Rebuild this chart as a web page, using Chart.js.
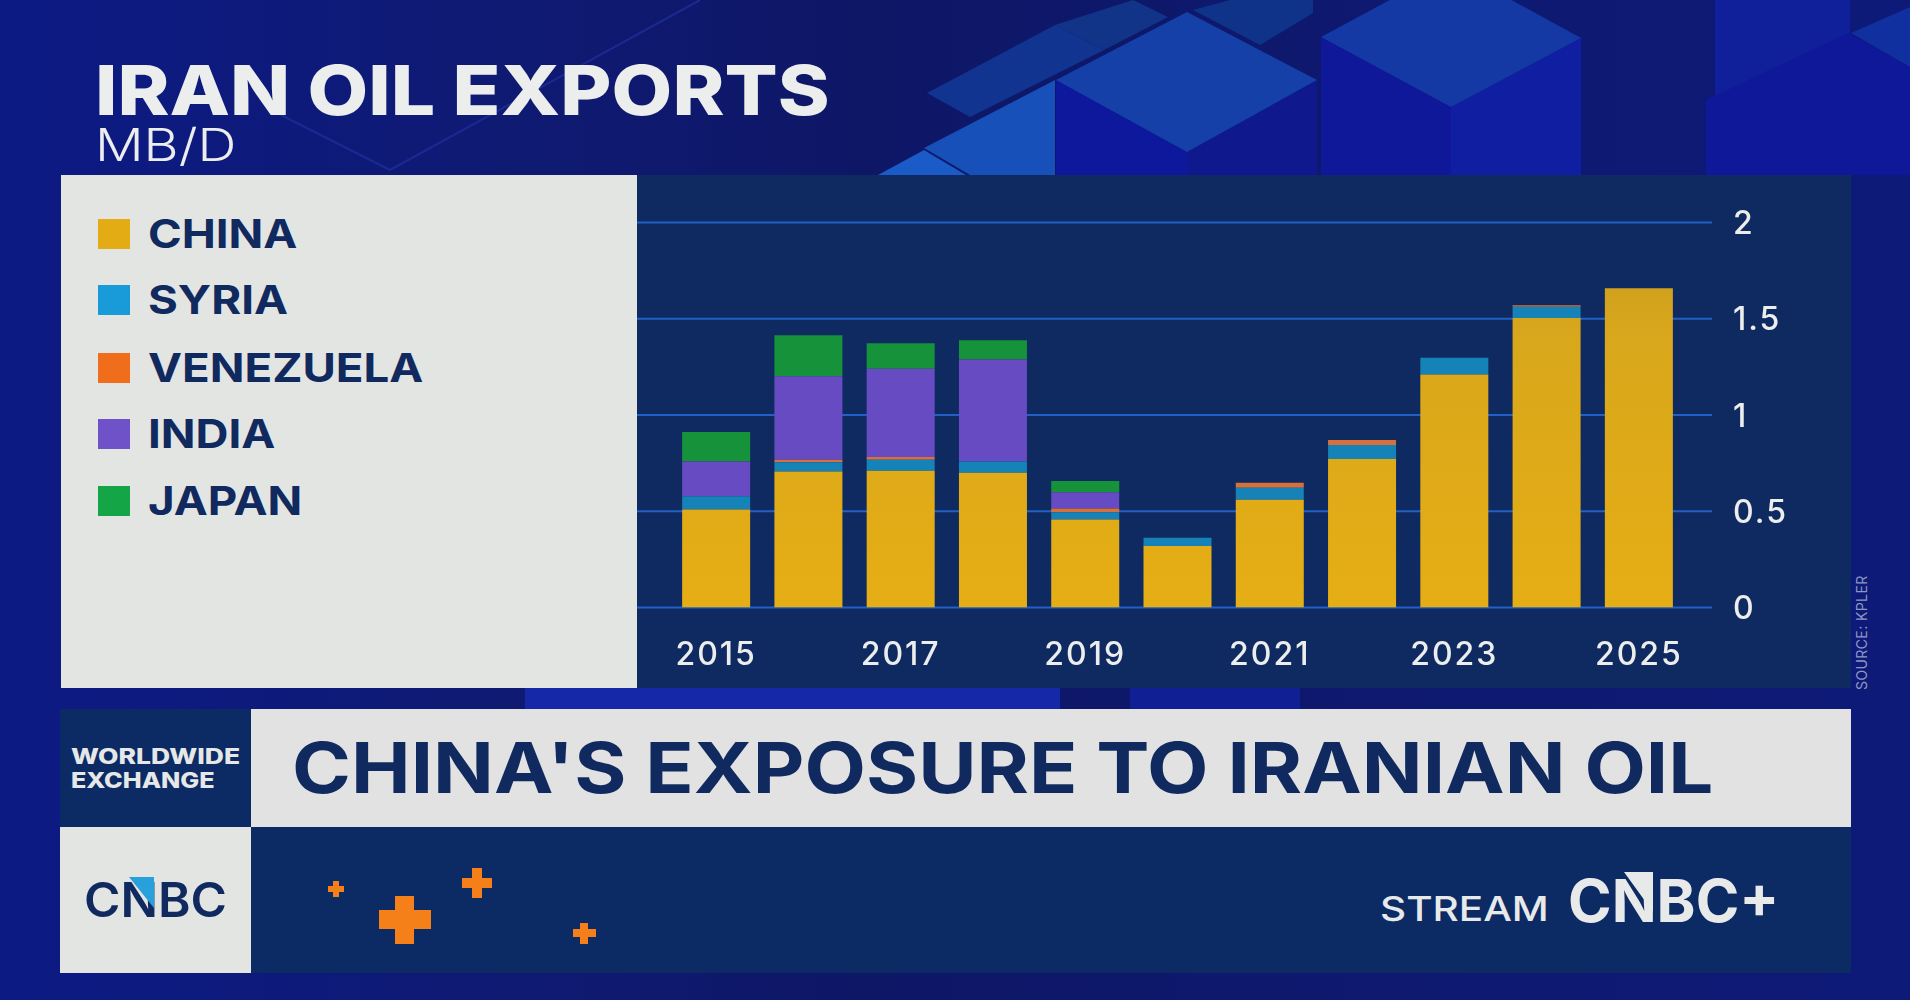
<!DOCTYPE html>
<html>
<head>
<meta charset="utf-8">
<title>Iran oil exports</title>
<script src="https://cdn.jsdelivr.net/npm/chart.js@4"></script>
<style>
    html, body { margin: 0; padding: 0; background: #0d1a7c; }
    #stage { position: relative; width: 1910px; height: 1000px; overflow: hidden; font-family: Inter, sans-serif; }
    #bg { position: absolute; left: 0; top: 0; }
    .box { position: absolute; }
    .txt { position: absolute; white-space: nowrap; line-height: 1; transform-origin: left center; }
    #chart { position: absolute; left: 637px; top: 175px; }
    .swatch { position: absolute; left: 98px; width: 32px; height: 30px; }
</style>
</head>
<body>
<div id="stage">
    <svg id="bg" width="1910" height="1000" viewBox="0 0 1910 1000">
        <defs>
            <linearGradient id="base" x1="0" y1="0" x2="1" y2="0">
                <stop offset="0" stop-color="#0c1a84"/>
                <stop offset="0.25" stop-color="#0f1a74"/>
                <stop offset="0.45" stop-color="#0e1766"/>
                <stop offset="1" stop-color="#0e1a78"/>
            </linearGradient>
        </defs>
        <rect width="1910" height="1000" fill="url(#base)"/>
        <!-- cubes behind the title -->
        <path d="M700 0L390 170M281 115L390 170" stroke="#1a2a92" stroke-width="2" fill="none"/>
        <polygon points="927,93 1055,25 1104,50 970,117" fill="#103490"/>
        <polygon points="1055,25 1133,0 1168,17 1104,50" fill="#123488"/>
        <polygon points="1193,10 1230,0 1313,0 1313,13 1260,45" fill="#10338a"/>
        <polygon points="924,148 1055,80 1055,175 970,175" fill="#1650b8"/>
        <polygon points="878,175 924,150 966,175" fill="#1a5bc8"/>
        <polygon points="1056,80 1187,152 1187,175 1056,175" fill="#0e189c"/>
        <polygon points="1187,152 1317,80 1317,175 1187,175" fill="#0f188c"/>
        <polygon points="1187,12 1317,80 1187,152 1056,80" fill="#1440a8"/>
        <polygon points="1321,37 1451,107 1451,175 1321,175" fill="#10189a"/>
        <polygon points="1451,107 1581,38 1581,175 1451,175" fill="#101fa2"/>
        <polygon points="1451,-33 1581,38 1451,107 1321,37" fill="#1438a4"/>
        <rect x="1715" y="0" width="135" height="175" fill="#10209a"/>
        <polygon points="1706,100 1848,33 1910,67 1910,175 1706,175" fill="#10189a"/>
        <polygon points="1851,33 1910,7 1910,67" fill="#1030a0"/>
        <!-- strip between the chart and the headline -->
        <rect x="525" y="688" width="535" height="21" fill="#1428a8"/>
        <rect x="1130" y="688" width="170" height="21" fill="#101f94"/>
    </svg>

    <div class="txt" style="left:95px;top:56px;font-size:69px;font-weight:800;color:#eceded;transform:scaleX(1.14);">IRAN OIL EXPORTS</div>
    <div class="txt" style="left:95px;top:122px;font-size:45px;font-weight:300;color:#eceded;transform:scaleX(1.2);">MB/D</div>

    <div class="box" style="left:61px;top:175px;width:576px;height:513px;background:#e3e5e3;"></div>
    <div class="box" style="left:637px;top:175px;width:1214px;height:513px;background:#0f2a60;"></div>
    <div id="legend"></div>
    <canvas id="chart" width="1214" height="513"></canvas>
    <div class="txt" style="left:1855px;top:578px;height:112px;font-size:14px;letter-spacing:0.4px;color:#8e97c4;writing-mode:vertical-rl;transform:rotate(180deg);transform-origin:center;">SOURCE: KPLER</div>

    <div class="box" style="left:60px;top:709px;width:191px;height:118px;background:#0c2a63;"></div>
    <div class="box" style="left:251px;top:709px;width:1600px;height:118px;background:#e2e2e2;"></div>
    <div class="box" style="left:60px;top:827px;width:191px;height:146px;background:#e3e5e3;"></div>
    <div class="box" style="left:251px;top:827px;width:1600px;height:146px;background:#0c2a63;"></div>

    <div class="txt" style="left:71px;top:746px;font-size:21px;font-weight:800;color:#e6e8e8;transform:scaleX(1.26);">WORLDWIDE</div>
    <div class="txt" style="left:71px;top:770px;font-size:21px;font-weight:800;color:#e6e8e8;transform:scaleX(1.2);">EXCHANGE</div>
    <div class="txt" style="left:292px;top:733px;font-size:70px;font-weight:700;color:#10295f;transform:scaleX(1.14);">CHINA'S EXPOSURE TO IRANIAN OIL</div>

    <div class="txt" style="left:84px;top:876px;font-size:48px;font-weight:600;color:#10295f;transform:scaleX(1.03);">CNBC</div>
    <div class="txt" style="left:1380px;top:892px;font-size:34px;font-weight:500;color:#e8eaea;transform:scaleX(1.19);">STREAM</div>
    <div class="txt" style="left:1568px;top:871px;font-size:59px;font-weight:700;color:#e8eaea;">CNBC+</div>
    <svg class="box" style="left:0;top:0;" width="1910" height="1000">
        <polygon points="129,877 154,877 154,908" fill="#27a0dc"/>
        <polygon points="1624,872 1653,872 1653,912" fill="#e8eaea"/>
        <!-- plus signs -->
        <g fill="#f5801a">
            <rect x="328" y="886" width="16" height="6"/><rect x="333" y="881" width="6" height="16"/>
            <rect x="462" y="878" width="30" height="10"/><rect x="472" y="868" width="10" height="30"/>
            <rect x="379" y="910" width="52" height="19"/><rect x="395" y="896" width="19" height="48"/>
            <rect x="573" y="929" width="23" height="8"/><rect x="580" y="923" width="8" height="21"/>
        </g>
    </svg>
</div>
<script>
// السنوات والقيم مقروءة من الصورة
const years = ['2015', '2016', '2017', '2018', '2019', '2020', '2021', '2022', '2023', '2024', '2025'];
const china = [0.509, 0.706, 0.711, 0.70, 0.457, 0.32, 0.56, 0.771, 1.211, 1.504, 1.659];
const syria = [0.069, 0.048, 0.057, 0.058, 0.038, 0.042, 0.062, 0.073, 0.087, 0.058, 0];
const venezuela = [0, 0.014, 0.014, 0, 0.019, 0, 0.026, 0.026, 0, 0.008, 0];
const india = [0.18, 0.433, 0.458, 0.53, 0.085, 0, 0, 0, 0, 0, 0];
const japan = [0.154, 0.213, 0.133, 0.10, 0.058, 0, 0, 0, 0, 0, 0];
const yTicks = [0, 0.5, 1, 1.5, 2];
const seriesNames = ['CHINA', 'SYRIA', 'VENEZUELA', 'INDIA', 'JAPAN'];
const legendColors = ['#e3ab14', '#189bd8', '#f06d1c', '#6f52c8', '#14a546'];
const barColors = ['#e3ab17', '#1582b8', '#d8703c', '#674bc2', '#16923a'];
const legendRows = [234, 300, 368, 434, 501];

// بناء وسيلة الإيضاح
const legend = document.getElementById('legend');
seriesNames.forEach(function(name, i) {
    const sw = document.createElement('div');
    sw.className = 'swatch';
    sw.style.top = (legendRows[i] - 15) + 'px';
    sw.style.background = legendColors[i];
    legend.appendChild(sw);
    const label = document.createElement('div');
    label.className = 'txt';
    label.textContent = name;
    label.style.cssText = 'left:148px;top:' + (legendRows[i] - 20) + 'px;font-size:40px;font-weight:700;color:#10295f;transform:scaleX(1.14);';
    legend.appendChild(label);
});

// خطوط الشبكة تمتد خارج منطقة الأعمدة
const longGrid = {
    id: 'longGrid',
    beforeDraw(chart) {
        chart.ctx.letterSpacing = '2px';
    },
    beforeDatasetsDraw(chart) {
        const ctx = chart.ctx;
        const y = chart.scales.y;
        ctx.save();
        ctx.strokeStyle = '#2360c4';
        ctx.lineWidth = 2;
        y.ticks.forEach(function(t) {
            const py = y.getPixelForValue(t.value);
            ctx.beginPath();
            ctx.moveTo(0, py);
            ctx.lineTo(1075, py);
            ctx.stroke();
        });
        ctx.restore();
    }
};

function chinaFill(context) {
    const area = context.chart.chartArea;
    if (!area) return barColors[0];
    const g = context.chart.ctx.createLinearGradient(0, area.top, 0, area.bottom);
    g.addColorStop(0, '#c89a20');
    g.addColorStop(0.3, '#d8a71b');
    g.addColorStop(1, '#e6ae15');
    return g;
}

const seriesData = [china, syria, venezuela, india, japan];

new Chart(document.getElementById('chart'), {
    type: 'bar',
    data: {
        labels: years,
        datasets: seriesNames.map(function(name, i) {
            return {
                label: name,
                data: seriesData[i],
                backgroundColor: i === 0 ? chinaFill : barColors[i],
                borderWidth: 0,
                barPercentage: 0.737,
                categoryPercentage: 1
            };
        })
    },
    options: {
        responsive: false,
        animation: false,
        devicePixelRatio: 1,
        layout: { padding: { left: 33, top: 47.5, right: 0, bottom: 0 } },
        plugins: { legend: { display: false }, tooltip: { enabled: false } },
        scales: {
            x: {
                stacked: true,
                grid: { display: false },
                border: { display: false },
                afterFit(scale) { scale.height = 80.5; },
                ticks: {
                    color: '#eceded',
                    font: { family: 'Inter', size: 32, weight: '500' },
                    maxRotation: 0,
                    autoSkip: false,
                    padding: 21,
                    callback: function(value, index) {
                        return index % 2 === 0 ? years[index] : '';
                    }
                }
            },
            y: {
                stacked: true,
                position: 'right',
                min: 0,
                max: 2,
                grid: { display: false },
                border: { display: false },
                afterFit(scale) {
                    scale.width = 166;
                    scale.paddingTop = 0;
                    scale.paddingBottom = 0;
                },
                afterBuildTicks(scale) {
                    scale.ticks = yTicks.map(function(v) { return { value: v }; });
                },
                ticks: {
                    color: '#eceded',
                    font: { family: 'Inter', size: 32, weight: '500' },
                    padding: 40,
                    labelOffset: 2,
                    callback: function(value) { return String(value); }
                }
            }
        }
    },
    plugins: [longGrid]
});
</script>
</body>
</html>
